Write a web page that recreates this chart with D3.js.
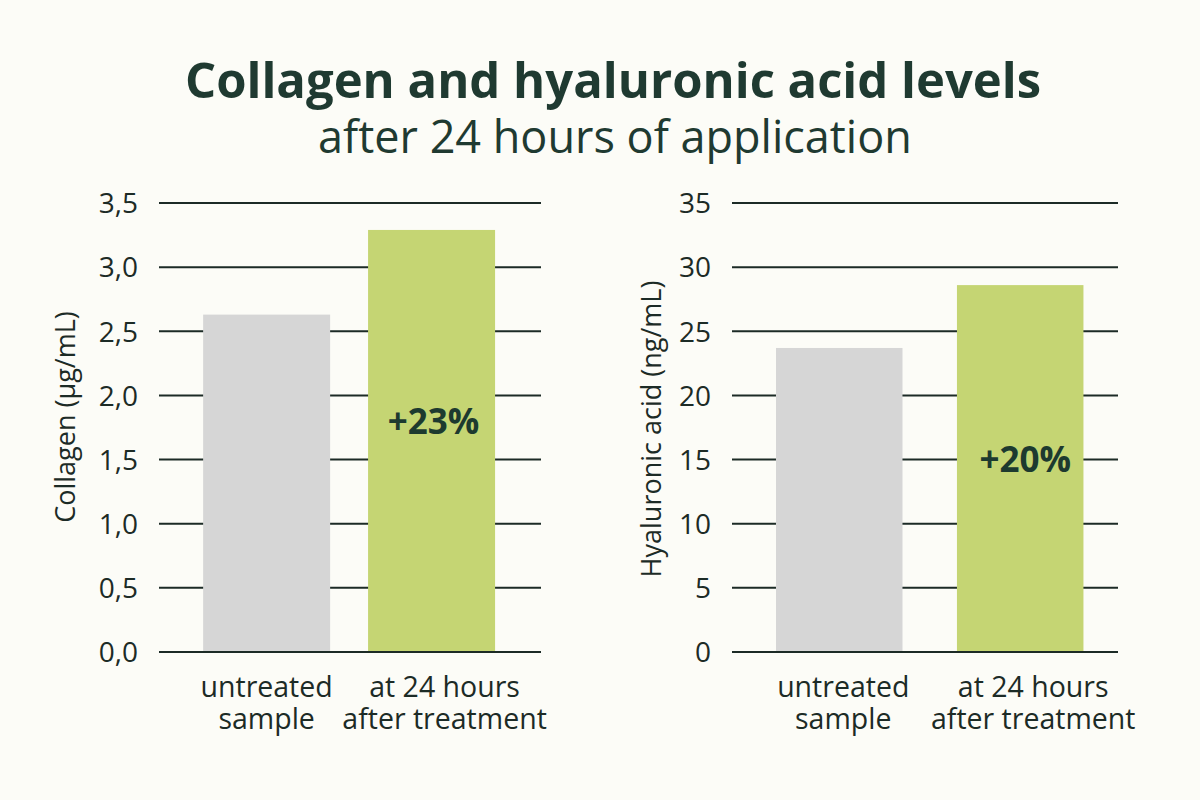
<!DOCTYPE html>
<html>
<head>
<meta charset="utf-8">
<script src="https://cdn.jsdelivr.net/npm/d3@7"></script>
<style>
  html, body { margin: 0; padding: 0; background: #fcfcf7; }
  svg { display: block; font-family: "Open Sans", sans-serif; }
</style>
</head>
<body>
<svg id="chart" width="1200" height="800"></svg>
<script>
const categories = ["untreated|sample", "at 24 hours|after treatment"];
const collagenValues = [2.63, 3.29];
const hyaluronicValues = [23.7, 28.6];
const collagenTicks = [0, 0.5, 1.0, 1.5, 2.0, 2.5, 3.0, 3.5];
const hyaluronicTicks = [0, 5, 10, 15, 20, 25, 30, 35];
const collagenLabel = "+23%";
const hyaluronicLabel = "+20%";
const titleText = "Collagen and hyaluronic acid levels";
const subtitleText = "after 24 hours of application";
const barColors = ["#d6d6d6", "#c5d573"];

const svg = d3.select("#chart");
const ink = "#1c2b26";

svg.append("rect").attr("width", 1200).attr("height", 800).attr("fill", "#fcfcf7");

svg.append("text").attr("x", 613).attr("y", 98).attr("text-anchor", "middle")
  .attr("font-size", 49).attr("font-weight", 700).attr("fill", "#1f3a31").text(titleText);
svg.append("text").attr("x", 615).attr("y", 153).attr("text-anchor", "middle")
  .attr("font-size", 45).attr("fill", "#1f3a31").text(subtitleText);

function drawPanel(cfg) {
  const g = svg.append("g");
  const y = d3.scaleLinear().domain([0, cfg.max]).range([652, 203]);
  const x = d3.scaleBand().domain(categories).range([cfg.x0, cfg.x1])
    .paddingInner(cfg.pi).paddingOuter(cfg.po).align(cfg.al);

  // gridlines
  g.selectAll("line.grid").data(cfg.ticks).join("line")
    .attr("x1", cfg.x0).attr("x2", cfg.x1)
    .attr("y1", d => y(d)).attr("y2", d => y(d))
    .attr("stroke", ink).attr("stroke-width", 2);

  // tick labels via axis
  const axis = d3.axisLeft(y).tickValues(cfg.ticks).tickSize(0).tickPadding(0)
    .tickFormat(cfg.fmt);
  const ag = g.append("g").attr("transform", `translate(${cfg.labelX},0)`).call(axis);
  ag.select(".domain").remove();
  ag.selectAll("text").attr("font-size", 28).attr("fill", ink)
    .attr("font-family", "'Open Sans', sans-serif").attr("dy", "0.35em");

  // bars
  g.selectAll("rect.bar").data(cfg.values).join("rect")
    .attr("x", (d, i) => x(categories[i])).attr("width", x.bandwidth())
    .attr("y", d => y(d)).attr("height", d => y(0) - y(d) - 1)
    .attr("fill", (d, i) => barColors[i]);

  // zero line on top
  g.append("line").attr("x1", cfg.x0).attr("x2", cfg.x1)
    .attr("y1", y(0)).attr("y2", y(0)).attr("stroke", ink).attr("stroke-width", 2);

  // percentage label
  g.append("text").attr("x", x(categories[1]) + x.bandwidth() / 2 + cfg.pctDx).attr("y", cfg.pctY)
    .attr("text-anchor", "middle").attr("dy", "0.35em")
    .attr("font-size", 35).attr("font-weight", 700).attr("fill", "#1d3a2f").text(cfg.pct);

  // category labels
  categories.forEach((c, i) => {
    const lines = c.split("|");
    const cx = x(c) + x.bandwidth() / 2 + cfg.catDx[i];
    const t = g.append("text").attr("text-anchor", "middle")
      .attr("font-size", 28.5).attr("fill", ink);
    lines.forEach((l, j) => {
      t.append("tspan").attr("x", cx).attr("y", 697 + j * 32).text(l);
    });
  });

  // axis title
  g.append("text").attr("transform", `translate(${cfg.titleX},${cfg.titleY}) rotate(-90)`)
    .attr("text-anchor", "middle").attr("dy", "0.35em")
    .attr("font-size", 27).attr("fill", ink).text(cfg.title);
}

drawPanel({
  x0: 159, x1: 541, pi: 0.23, po: 0.273, al: 0.49, max: 3.5, ticks: collagenTicks,
  values: collagenValues, fmt: d => d3.format(".1f")(d).replace(".", ","),
  labelX: 138, pct: collagenLabel, pctY: 422, pctDx: 2, titleX: 66, titleY: 417,
  title: "Collagen (µg/mL)", catDx: [0, 13]
});
drawPanel({
  x0: 732, x1: 1118, pi: 0.301, po: 0.217, al: 0.56, max: 35, ticks: hyaluronicTicks,
  values: hyaluronicValues, fmt: d => String(d),
  labelX: 711, pct: hyaluronicLabel, pctY: 460, pctDx: 5, titleX: 652, titleY: 429,
  title: "Hyaluronic acid (ng/mL)", catDx: [4, 13]
});
</script>
</body>
</html>
